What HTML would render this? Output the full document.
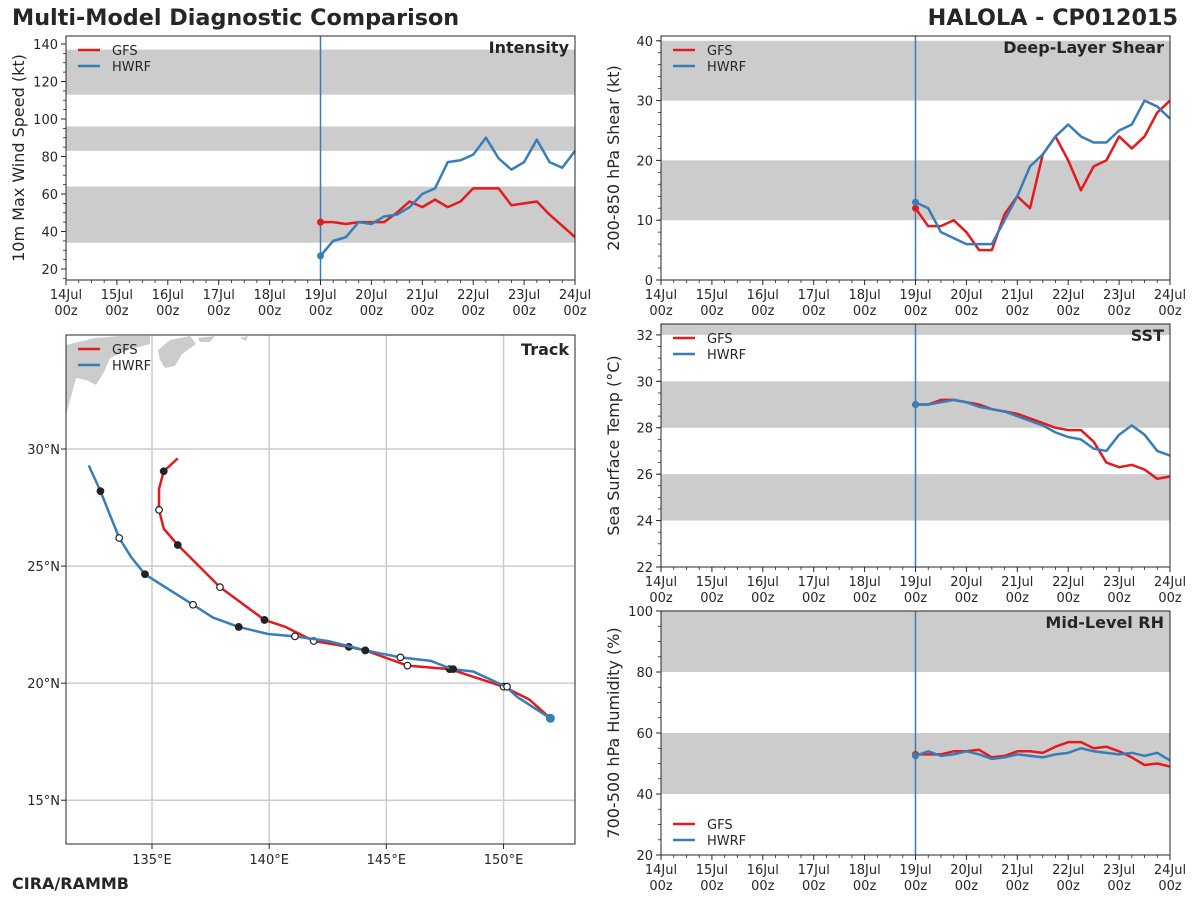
<!DOCTYPE html>
<html><head><meta charset="utf-8"><style>
body{margin:0;background:#fff;}
svg{display:block;font-family:"DejaVu Sans","Liberation Sans",sans-serif;}
</style></head><body>
<svg id="chart" width="1200" height="900" viewBox="0 0 1200 900" xmlns="http://www.w3.org/2000/svg">
<text x="12" y="25" font-size="22.3" font-weight="bold" fill="#262626">Multi-Model Diagnostic Comparison</text>
<text x="1178" y="25" font-size="22.3" font-weight="bold" fill="#262626" text-anchor="end">HALOLA - CP012015</text>
<text x="12" y="889" font-size="16" font-weight="bold" fill="#262626">CIRA/RAMMB</text>
</svg>
<script>
const NS="http://www.w3.org/2000/svg";
const svg=document.getElementById('chart');
function mk(tag,attrs,parent){const e=document.createElementNS(NS,tag);for(const k in attrs)e.setAttribute(k,attrs[k]);(parent||svg).appendChild(e);return e;}

// time axis
const dayLabels=["14Jul","15Jul","16Jul","17Jul","18Jul","19Jul","20Jul","21Jul","22Jul","23Jul","24Jul"];
const fcstHours=[0,6,12,18,24,30,36,42,48,54,60,66,72,78,84,90,96,102,108,114,120];

const intensityGFS=[45,45,44,45,45,45,50,56,53,57,53,56,63,63,63,54,55,56,49,43,37];
const intensityHWRF=[27,35,37,45,44,48,49,53,60,63,77,78,81,90,79,73,77,89,77,74,83];
const intensityBands=[[34,64],[83,96],[113,137]];
const intensityTicks=[20,40,60,80,100,120,140];

const shearGFS=[12,9,9,10,8,5,5,11,14,12,21,24,20,15,19,20,24,22,24,28,30];
const shearHWRF=[13,12,8,7,6,6,6,10,14,19,21,24,26,24,23,23,25,26,30,29,27];
const shearBands=[[10,20],[30,40]];
const shearTicks=[0,10,20,30,40];

const sstGFS=[29,29,29.2,29.2,29.1,29,28.8,28.7,28.6,28.4,28.2,28,27.9,27.9,27.4,26.5,26.3,26.4,26.2,25.8,25.9];
const sstHWRF=[29,29,29.1,29.2,29.1,28.9,28.8,28.7,28.5,28.3,28.1,27.8,27.6,27.5,27.1,27,27.7,28.1,27.7,27,26.8];
const sstBands=[[24,26],[28,30],[32,34]];
const sstTicks=[22,24,26,28,30,32];

const rhGFS=[53,53,53,54,54,54.5,52,52.5,54,54,53.5,55.5,57,57,55,55.5,54,52,49.5,50,49];
const rhHWRF=[52.5,54,52.5,53,54,53,51.5,52,53,52.5,52,53,53.5,55,54,53.5,53,53.5,52.5,53.5,51];
const rhBands=[[40,60],[80,100]];
const rhTicks=[20,40,60,80,100];

const gfsTrackLon=[152.0,151.1,150.0,147.7,145.9,144.1,143.4,141.9,140.7,139.8,137.9,136.1,135.5,135.3,135.3,135.5,136.1];
const gfsTrackLat=[18.5,19.3,19.85,20.6,20.75,21.4,21.55,21.8,22.4,22.7,24.1,25.9,26.6,27.4,28.3,29.05,29.6];
const gfsMarkLon=[150.0,147.7,145.9,144.1,143.4,141.9,139.8,137.9,136.1,135.3,135.5];
const gfsMarkLat=[19.85,20.6,20.75,21.4,21.55,21.8,22.7,24.1,25.9,27.4,29.05];
const gfsMarkFilled=[0,1,0,1,1,0,1,0,1,0,1];
const hwrfTrackLon=[152.0,150.6,150.1,148.7,147.8,146.9,145.6,144.1,142.5,141.1,139.95,138.7,137.6,136.75,134.7,134.1,133.6,132.8,132.3];
const hwrfTrackLat=[18.5,19.4,19.85,20.5,20.6,20.95,21.1,21.4,21.8,22.0,22.1,22.4,22.8,23.35,24.65,25.4,26.2,28.2,29.3];
const hwrfMarkLon=[150.15,147.85,145.6,144.1,141.1,138.7,136.75,134.7,133.6,132.8];
const hwrfMarkLat=[19.85,20.6,21.1,21.4,22.0,22.4,23.35,24.65,26.2,28.2];
const hwrfMarkFilled=[0,1,0,1,0,1,0,1,0,1];
const lonTicks=[135,140,145,150];
const latTicks=[15,20,25,30];

const RED="#e41a1c",BLUE="#377eb8",TXT="#262626";

function timePanel(o){
  const {name,x0,x1,y0,y1,vmin,vmax,bands,ticks,minor,gfs,hwrf,ylabel,title,legendBottom}=o;
  const g=mk('g',{});
  
  
  const X=d=>x0+(x1-x0)*d/10;
  const Y=v=>y1-(v-vmin)/(vmax-vmin)*(y1-y0);
  const XH=h=>X(5+h/24);
  mk('rect',{x:x0,y:y0,width:x1-x0,height:y1-y0,fill:'#fff'},g);
  bands.forEach(b=>{const top=Math.max(Y(b[1]),y0),bot=Math.min(Y(b[0]),y1);
    const r=mk('rect',{x:x0,y:top,width:x1-x0,height:bot-top,fill:'#cccccc'},g);
    
    });
  const vl=mk('line',{x1:XH(0),x2:XH(0),y1:y0,y2:y1,stroke:BLUE,'stroke-width':1.5},g);
  
  
  [[gfs,RED,'gfs'],[hwrf,BLUE,'hwrf']].forEach(([arr,c,n])=>{
    const pts=arr.map((v,i)=>XH(fcstHours[i])+','+Y(v)).join(' ');
    const pl=mk('polyline',{points:pts,fill:'none',stroke:c,'stroke-width':2.5,'stroke-linejoin':'round'},g);
    
    
    mk('circle',{cx:XH(0),cy:Y(arr[0]),r:3.5,fill:c},g);
  });
  mk('rect',{x:x0,y:y0,width:x1-x0,height:y1-y0,fill:'none',stroke:TXT,'stroke-width':1},g);
  ticks.forEach(t=>{const y=Y(t);mk('line',{x1:x0-5,x2:x0,y1:y,y2:y,stroke:TXT},g);
    const tx=mk('text',{x:x0-8,y:y+5,'font-size':13,fill:TXT,'text-anchor':'end'},g);tx.textContent=t;
    
    });
  for(let v=Math.ceil(vmin/minor)*minor;v<=vmax;v+=minor){const y=Y(v);mk('line',{x1:x0-3,x2:x0,y1:y,y2:y,stroke:TXT,'stroke-width':0.8},g);}
  dayLabels.forEach((d,i)=>{const x=X(i);mk('line',{x1:x,x2:x,y1:y1,y2:y1+5,stroke:TXT},g);
    const t=mk('text',{x:x,y:y1+19,'font-size':13,fill:TXT,'text-anchor':'middle'},g);t.textContent=d;
    
    
    const t2=mk('text',{x:x,y:y1+35,'font-size':13,fill:TXT,'text-anchor':'middle'},g);t2.textContent='00z';
    if(i<10){for(let k=1;k<4;k++){const xm=x+(x1-x0)/40*k;mk('line',{x1:xm,x2:xm,y1:y1,y2:y1+3,stroke:TXT,'stroke-width':0.8},g);}}
  });
  const yl=mk('text',{x:0,y:0,'font-size':16,fill:TXT,'text-anchor':'middle',transform:`translate(${x0-42},${(y0+y1)/2}) rotate(-90)`},g);
  yl.textContent=ylabel;
  
  
  const tt=mk('text',{x:x1-6,y:y0+17,'font-size':16,'font-weight':'bold',fill:TXT,'text-anchor':'end'},g);
  tt.textContent=title;
  
  
  legend(g,x0,legendBottom?y1-45:y0);
}
function legend(g,x0,ly){
  [['GFS',RED],['HWRF',BLUE]].forEach(([n,c],i)=>{
    const le=mk('g',{},g);
    
    
    mk('line',{x1:x0+12,x2:x0+34,y1:ly+14+i*16,y2:ly+14+i*16,stroke:c,'stroke-width':2.5},le);
    const t=mk('text',{x:x0+46,y:ly+19+i*16,'font-size':13,fill:TXT},le);t.textContent=n;
  });
}

timePanel({name:'intensity',x0:66,x1:575,y0:36,y1:280,vmin:14.13,vmax:144.27,bands:intensityBands,ticks:intensityTicks,minor:5,gfs:intensityGFS,hwrf:intensityHWRF,ylabel:'10m Max Wind Speed (kt)',title:'Intensity'});
timePanel({name:'shear',x0:661,x1:1170,y0:36,y1:280,vmin:0,vmax:40.8,bands:shearBands,ticks:shearTicks,minor:2,gfs:shearGFS,hwrf:shearHWRF,ylabel:'200-850 hPa Shear (kt)',title:'Deep-Layer Shear'});
timePanel({name:'sst',x0:661,x1:1170,y0:324,y1:567,vmin:22,vmax:32.47,bands:sstBands,ticks:sstTicks,minor:0.5,gfs:sstGFS,hwrf:sstHWRF,ylabel:'Sea Surface Temp (°C)',title:'SST'});
timePanel({name:'rh',x0:661,x1:1170,y0:611,y1:855,vmin:20,vmax:100,bands:rhBands,ticks:rhTicks,minor:5,gfs:rhGFS,hwrf:rhHWRF,ylabel:'700-500 hPa Humidity (%)',title:'Mid-Level RH',legendBottom:true});

// track panel
(function(){
  const x0=66,x1=575,y0=335,y1=844;
  const lonMin=131.33,lonMax=153.05,latMin=13.13,latMax=34.87;
  const LX=l=>x0+(l-lonMin)/(lonMax-lonMin)*(x1-x0);
  const LY=l=>y1-(l-latMin)/(latMax-latMin)*(y1-y0);
  const g=mk('g',{});
  
  
  const cp=mk('clipPath',{id:'tc'},g);
  mk('rect',{x:x0,y:y0,width:x1-x0,height:y1-y0},cp);
  const land=mk('path',{d:`M66,345 L95,338 L120,336 L150,336 L150,344 L128,350 L110,358 L104,372 L96,385 L86,380 L76,378 L70,400 L66,415 Z M158,350 L170,340 L190,336 L196,344 L182,354 L175,366 L165,368 L160,360 Z M198,338 L215,336 L210,342 L200,342 Z M240,338 L248,336 L246,341 Z`,fill:'#cccccc','clip-path':'url(#tc)'},g);
  
  
  lonTicks.forEach(l=>{const x=LX(l);mk('line',{x1:x,x2:x,y1:y0,y2:y1,stroke:'#cccccc','stroke-width':1.5},g);
    mk('line',{x1:x,x2:x,y1:y1,y2:y1+5,stroke:TXT},g);
    const t=mk('text',{x:x,y:y1+20,'font-size':13,fill:TXT,'text-anchor':'middle'},g);t.textContent=l+'°E';
    
    });
  latTicks.forEach(l=>{const y=LY(l);mk('line',{x1:x0,x2:x1,y1:y,y2:y,stroke:'#cccccc','stroke-width':1.5},g);
    mk('line',{x1:x0-5,x2:x0,y1:y,y2:y,stroke:TXT},g);
    const t=mk('text',{x:x0-6,y:y+5,'font-size':13,fill:TXT,'text-anchor':'end'},g);t.textContent=l+'°N';
    
    });
  [[gfsTrackLon,gfsTrackLat,RED,'gfs',gfsMarkLon,gfsMarkLat,gfsMarkFilled],[hwrfTrackLon,hwrfTrackLat,BLUE,'hwrf',hwrfMarkLon,hwrfMarkLat,hwrfMarkFilled]].forEach(([lo,la,c,n,mlo,mla,mf])=>{
    const pl=mk('polyline',{points:lo.map((v,i)=>LX(v)+','+LY(la[i])).join(' '),fill:'none',stroke:c,'stroke-width':2.5,'stroke-linejoin':'round'},g);
    
    
    mlo.forEach((v,i)=>{const m=mk('circle',{cx:LX(v),cy:LY(mla[i]),r:3.3,fill:mf[i]?'#222':'#fff',stroke:'#222','stroke-width':1.2},g);
      
      });
  });
  mk('circle',{cx:LX(gfsTrackLon[0]),cy:LY(gfsTrackLat[0]),r:4.5,fill:BLUE},g);
  mk('rect',{x:x0,y:y0,width:x1-x0,height:y1-y0,fill:'none',stroke:TXT,'stroke-width':1},g);
  const tt=mk('text',{x:x1-6,y:y0+20,'font-size':16,'font-weight':'bold',fill:TXT,'text-anchor':'end'},g);
  tt.textContent='Track';
  
  
  legend(g,x0,y0);
})();
</script>
</body></html>
